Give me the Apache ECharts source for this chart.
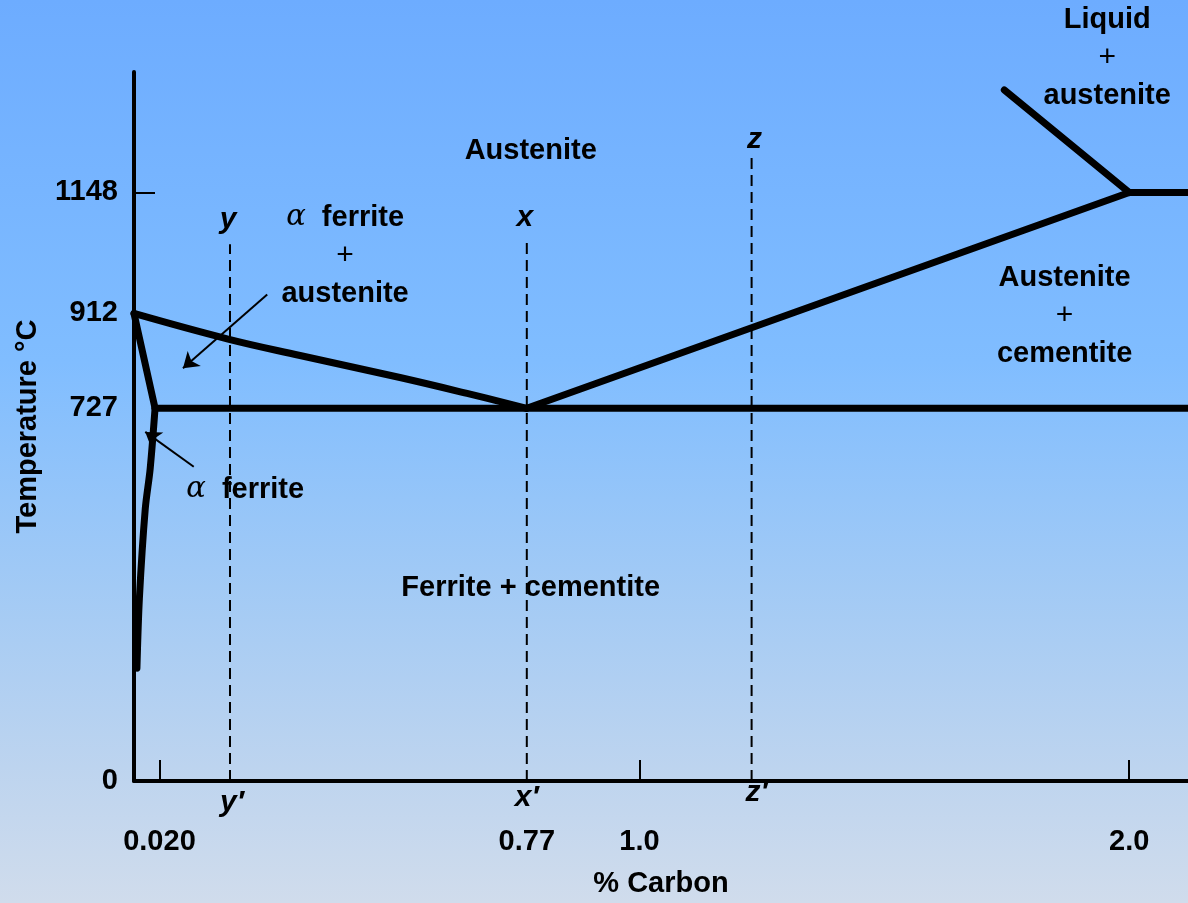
<!DOCTYPE html>
<html>
<head>
<meta charset="utf-8">
<title>Fe-C diagram (steel part)</title>
<script src="https://cdn.jsdelivr.net/npm/echarts@6/dist/echarts.min.js"></script>
<style>
  html, body { margin: 0; padding: 0; }
  #chart { width: 1188px; height: 903px; }
</style>
</head>
<body>
<div id="chart"></div>
<script>
// axis ticks (schematic, values as labelled)
const xTickValues = [0.02, 0.77, 1.0, 2.0]
const xTickLabels = ['0.020', '0.77', '1.0', '2.0']
const xTickMarks = [0.02, 1.0, 2.0]
const yTickValues = [0, 727, 912, 1148]
const yTickMarks = [1148]

// phase boundaries  [% carbon, temperature]
const gammaBoundary = [[-0.032, 912], [0.160, 862], [0.307, 830], [0.511, 787], [0.648, 756], [0.77, 727]]
const alphaBoundary = [[-0.032, 912], [0.011, 727]]
const ferriteSolvus = [[0.011, 727], [0.001, 609], [-0.009, 531], [-0.021, 356], [-0.026, 220]]
const eutectoidLine = [[0.011, 727], [2.12, 727]]
const acmLine = [[0.77, 727], [2.0, 1148]]
const eutecticLine = [[2.0, 1148], [2.12, 1148]]
const liquidusLine = [[1.745, 1348], [2.0, 1148]]

// the three alloys y, x, z (dashed verticals)
const alloyNames = ['y', 'x', 'z']
const alloyCarbon = [0.164, 0.77, 1.229]
const alloyTop = [1047, 1056, 1216]

// arrows [from, to]
const arrows = [
  [[0.240, 949], [0.068, 805]],
  [[0.090, 613], [-0.009, 681]]
]

// region labels [x, y, text]
const regionLabels = [
  [1.955, 1410, 'Liquid\n{p|+}\naustenite'],
  [0.778, 1228, 'Austenite'],
  [0.399, 1025, '{a|α}  ferrite\n{p|+}\naustenite'],
  [1.868, 907, 'Austenite\n{p|+}\ncementite'],
  [0.195, 568, '{a|α}  ferrite'],
  [0.778, 377, 'Ferrite + cementite'],
  [0.160, 1095, '{i|y}'],
  [0.766, 1099, '{i|x}'],
  [1.235, 1251, '{i|z}'],
  [0.168, -43, '{i|y′}'],
  [0.77, -33, '{i|x′}'],
  [1.239, -23, '{i|z′}']
]

const FONT = 'Liberation Sans'
const chartInstance = echarts.init(document.getElementById('chart'))

const boundary = (name, data, smooth) => ({
  name: name,
  type: 'line',
  data: data,
  smooth: smooth || false,
  symbol: 'none',
  silent: true,
  lineStyle: { color: '#000', width: 7, cap: 'round', join: 'round' },
  z: 5
})

const series = [
  boundary('gamma', gammaBoundary, 0.4),
  boundary('alpha', alphaBoundary),
  boundary('solvus', ferriteSolvus, 0.3),
  boundary('eutectoid', eutectoidLine),
  boundary('acm', acmLine),
  boundary('eutectic', eutecticLine),
  boundary('liquidus', liquidusLine)
]

alloyCarbon.forEach((c, i) => {
  series.push({
    name: 'alloy ' + alloyNames[i],
    type: 'line',
    data: [[c, 0], [c, alloyTop[i]]],
    symbol: 'none',
    silent: true,
    lineStyle: { color: '#000', width: 2, type: [11, 6] },
    z: 4
  })
})

series.push({
  name: 'arrows',
  type: 'lines',
  coordinateSystem: 'cartesian2d',
  silent: true,
  symbol: ['none', 'arrow'],
  symbolSize: [0, 15],
  lineStyle: { color: '#000', width: 2, opacity: 1 },
  data: arrows.map(a => ({ coords: a })),
  z: 6
})

series.push({
  name: 'labels',
  type: 'scatter',
  data: regionLabels,
  symbolSize: 0,
  clip: false,
  silent: true,
  itemStyle: { opacity: 1 },
  label: {
    show: true,
    position: 'inside',
    formatter: p => p.data[2],
    color: '#000',
    opacity: 1,
    textBorderWidth: 0,
    fontFamily: FONT,
    fontWeight: 'bold',
    fontSize: 29,
    lineHeight: 38,
    align: 'center',
    rich: {
      a: { fontFamily: 'DejaVu Serif', fontStyle: 'italic', fontWeight: 'normal', fontSize: 29, color: '#000' },
      i: { fontFamily: FONT, fontStyle: 'italic', fontWeight: 'bold', fontSize: 30, color: '#000' },
      p: { fontFamily: FONT, fontWeight: 'normal', fontSize: 30, color: '#000', lineHeight: 38 }
    }
  },
  z: 7
})

const option = {
  backgroundColor: {
    type: 'linear', x: 0, y: 0, x2: 0, y2: 1,
    colorStops: [
      { offset: 0, color: '#6dacff' },
      { offset: 0.4, color: '#80bdff' },
      { offset: 0.65, color: '#a2caf5' },
      { offset: 0.85, color: '#bdd4ef' },
      { offset: 1, color: '#d0dcec' }
    ]
  },
  animation: false,
  textStyle: { fontFamily: FONT },
  grid: { left: 134, right: 0, top: 72, bottom: 120, containLabel: false },
  xAxis: {
    type: 'value',
    min: -0.032,
    max: 2.12,
    name: '% Carbon',
    nameLocation: 'middle',
    nameGap: 88,
    nameTextStyle: { color: '#000', fontSize: 29, fontWeight: 'bold', fontFamily: FONT },
    axisLine: { onZero: false, lineStyle: { color: '#000', width: 4 } },
    axisTick: { show: true, inside: true, length: 21, customValues: xTickMarks, lineStyle: { color: '#000', width: 2 } },
    axisLabel: {
      customValues: xTickValues,
      formatter: v => xTickLabels[xTickValues.indexOf(v)],
      margin: 46,
      color: '#000',
      fontSize: 29,
      fontWeight: 'bold',
      fontFamily: FONT
    },
    splitLine: { show: false }
  },
  yAxis: {
    type: 'value',
    min: 0,
    max: 1383,
    name: 'Temperature °C',
    nameLocation: 'middle',
    nameRotate: 90,
    nameGap: 92,
    nameTextStyle: { color: '#000', fontSize: 29, fontWeight: 'bold', fontFamily: FONT },
    axisLine: { onZero: false, lineStyle: { color: '#000', width: 4 } },
    axisTick: { show: true, inside: true, length: 21, customValues: yTickMarks, lineStyle: { color: '#000', width: 2 } },
    axisLabel: {
      customValues: yTickValues,
      formatter: v => String(v),
      margin: 16,
      color: '#000',
      fontSize: 29,
      fontWeight: 'bold',
      fontFamily: FONT
    },
    splitLine: { show: false }
  },
  series: series
}

chartInstance.setOption(option)
</script>
</body>
</html>
